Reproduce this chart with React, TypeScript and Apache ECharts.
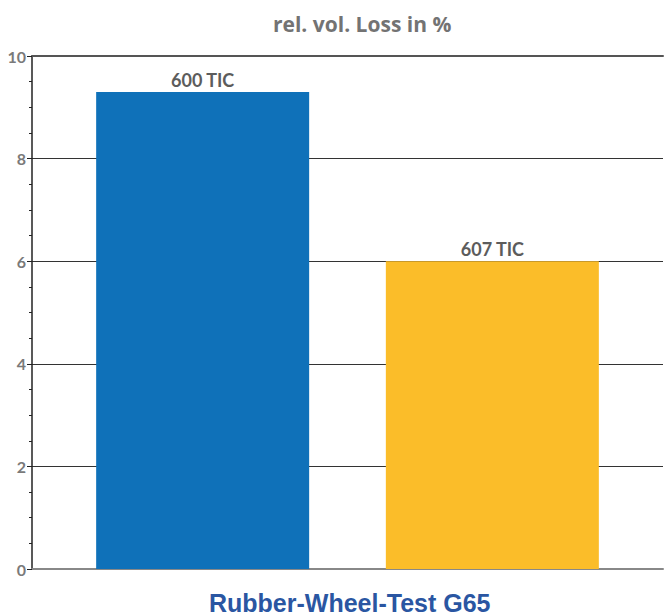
import React, { useEffect, useRef } from "react";
import * as echarts from "echarts";

const seriesNames = ["600 TIC", "607 TIC"];
const seriesValues = [9.3, 6.0];
const seriesColors = ["#0f71b9", "#fbbd29"];
const categories = ["G65"];
const yTicks = { min: 0, max: 10, interval: 2 };

export default function App() {
  const ref = useRef<HTMLDivElement>(null);
  useEffect(() => {
    const chart = echarts.init(ref.current!, null, { renderer: "svg" });
    chart.setOption({
      animation: false,
      backgroundColor: "#ffffff",
      title: [
        {
          text: "rel. vol. Loss in %",
          left: 268,
          top: 8,
          textStyle: { fontFamily: "Open Sans", fontWeight: "bold", fontSize: 21, color: "#737373" },
        },
        {
          text: "Rubber-Wheel-Test G65",
          left: 204,
          top: 585,
          textStyle: { fontFamily: "Liberation Sans", fontWeight: "bold", fontSize: 25, lineHeight: 25, color: "#2a56a2" },
        },
      ],
      grid: { left: 32, right: 2, top: 56, bottom: 46, containLabel: false },
      xAxis: [
        {
          type: "category",
          data: categories,
          axisLine: { show: true, lineStyle: { color: "#888", width: 2 } },
          axisTick: { show: false },
          axisLabel: { show: false },
        },
        {
          type: "category",
          position: "top",
          data: categories,
          axisLine: { show: true, lineStyle: { color: "#555", width: 2 } },
          axisTick: { show: false },
          axisLabel: { show: false },
        },
      ],
      yAxis: {
        type: "value",
        min: yTicks.min,
        max: yTicks.max,
        interval: yTicks.interval,
        axisLine: { show: true, lineStyle: { color: "#222", width: 1.5 } },
        axisTick: { show: true, length: 5, lineStyle: { color: "#222" } },
        minorTick: { show: true, splitNumber: 4, length: 3, lineStyle: { color: "#222" } },
        splitLine: { show: true, lineStyle: { color: "#333", width: 1 } },
        axisLabel: {
          fontFamily: "Lato",
          fontWeight: "bold",
          fontSize: 16,
          color: "#7a7a7a",
          margin: 6,
        },
      },
      series: seriesNames.map((name, i) => ({
        name,
        type: "bar",
        data: [seriesValues[i]],
        barWidth: 213,
        barGap: "36%",
        itemStyle: { color: seriesColors[i] },
        label: {
          show: true,
          position: "top",
          distance: 3,
          formatter: name,
          fontFamily: "Lato",
          fontWeight: "bold",
          fontSize: 18,
          color: "#5c5c5c",
        },
      })),
    });
    return () => chart.dispose();
  }, []);
  return (
    <div
      ref={ref}
      style={{ position: "fixed", left: 0, top: 0, width: 665, height: 615 }}
    />
  );
}
